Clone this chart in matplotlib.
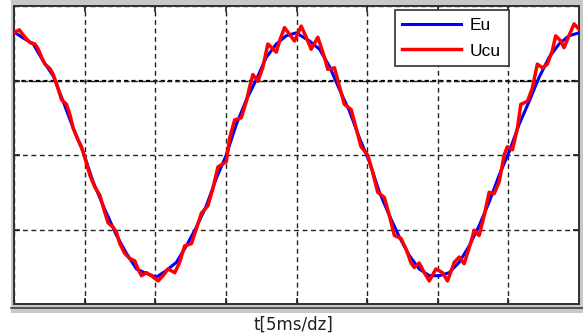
import matplotlib
matplotlib.use("Agg")
import matplotlib.pyplot as plt
from matplotlib.patches import Rectangle
from matplotlib.lines import Line2D

# time in ms (5 ms per division), voltage in divisions
eu_t = [0, 0.66, 1.36, 2.07, 2.78, 3.48, 4.19, 4.90, 5.60, 6.31, 7.26, 7.96, 8.67, 9.38,
        10.08, 10.79, 11.50, 12.20, 12.91, 13.62, 14.33, 15.03, 15.74, 16.45, 17.15, 17.86,
        18.57, 19.27, 19.98, 20.92, 21.63, 22.33, 23.04, 23.75, 24.45, 25.16, 25.87, 26.57,
        27.28, 27.99, 28.69, 29.40, 30.11, 30.81, 31.52, 32.23, 32.93, 33.64, 34.35, 35.05,
        35.76, 36.47, 37.17, 37.88, 38.59, 39.29, 40.0]
eu_v = [1.65, 1.57, 1.49, 1.26, 1.06, 0.72, 0.36, 0.04, -0.36, -0.68, -1.08, -1.32, -1.53, -1.59,
        -1.64, -1.55, -1.44, -1.22, -0.97, -0.68, -0.31, 0.00, 0.41, 0.74, 1.01, 1.31,
        1.49, 1.60, 1.64, 1.53, 1.42, 1.19, 0.88, 0.59, 0.23, -0.09, -0.50, -0.81,
        -1.10, -1.35, -1.53, -1.62, -1.62, -1.58, -1.44, -1.22, -0.95, -0.63, -0.27, 0.04,
        0.41, 0.72, 1.04, 1.31, 1.49, 1.60, 1.64]

ucu_t = [0, 0.37, 0.78, 1.13, 1.48, 1.72, 1.96, 2.19, 2.54, 2.78, 3.02, 3.37, 3.72, 3.96,
         4.19, 4.54, 4.78, 5.02, 5.37, 5.72, 6.08, 6.43, 6.66, 7.02, 7.26, 7.49, 7.84, 8.20,
         8.55, 8.78, 9.02, 9.38, 9.73, 10.20, 10.55, 10.90, 11.38, 11.73, 12.08, 12.56, 12.91,
         13.27, 13.73, 14.08, 14.44, 15.03, 15.27, 15.62, 16.09, 16.45, 16.68, 16.91, 17.27,
         17.62, 17.97, 18.57, 18.80, 19.15, 19.51, 19.86, 20.33, 20.69, 21.04, 21.51, 21.98,
         22.21, 22.69, 23.04, 23.39, 23.87, 24.22, 24.57, 25.04, 25.39, 25.75, 26.22, 26.57,
         26.93, 27.40, 27.75, 28.11, 28.34, 28.69, 29.05, 29.40, 29.87, 30.34, 30.69, 31.17,
         31.52, 31.87, 32.35, 32.58, 32.93, 33.29, 33.64, 33.99, 34.35, 34.70, 34.93, 35.29,
         35.64, 35.88, 36.35, 36.70, 37.05, 37.41, 37.76, 38.11, 38.35, 38.71, 38.94, 39.29,
         39.65, 40.0]
ucu_v = [1.64, 1.68, 1.58, 1.51, 1.49, 1.42, 1.31, 1.22, 1.16, 1.08, 0.95, 0.74, 0.68, 0.54,
         0.36, 0.20, 0.11, -0.04, -0.27, -0.43, -0.54, -0.77, -0.91, -0.97, -1.04, -1.19, -1.32, -1.39,
         -1.42, -1.53, -1.62, -1.58, -1.62, -1.69, -1.62, -1.53, -1.58, -1.44, -1.22, -1.19, -0.99,
         -0.78, -0.68, -0.45, -0.16, -0.09, 0.23, 0.47, 0.50, 0.72, 0.91, 1.08, 0.99,
         1.18, 1.49, 1.38, 1.53, 1.71, 1.62, 1.53, 1.73, 1.58, 1.42, 1.58, 1.31,
         1.15, 1.17, 0.92, 0.68, 0.61, 0.36, 0.11, 0.00, -0.23, -0.50, -0.57, -0.81,
         -1.08, -1.12, -1.26, -1.45, -1.51, -1.45, -1.58, -1.69, -1.53, -1.58, -1.69, -1.44,
         -1.37, -1.46, -1.17, -1.01, -1.08, -0.81, -0.50, -0.52, -0.36, 0.00, 0.11, 0.07,
         0.36, 0.68, 0.72, 0.90, 1.22, 1.17, 1.22, 1.40, 1.60, 1.53, 1.44, 1.60,
         1.76, 1.69]

x_ticks = [0, 5, 10, 15, 20, 25, 30, 35, 40]
y_ticks = [-2, -1, 0, 1, 2]

W, H = 583, 335
fig = plt.figure(figsize=(W / 100, H / 100), dpi=100)

# gray window frame behind the axes
fig.patches.append(Rectangle((11 / W, 1 - 313 / H), 572 / W, 313 / H,
                             transform=fig.transFigure, facecolor="#c8c8c8",
                             edgecolor="none", zorder=-5))
fig.lines.append(Line2D([11 / W, 1], [1 - 308 / H, 1 - 308 / H],
                        transform=fig.transFigure, color="#404040", lw=1.2, zorder=-4))

ax = fig.add_axes([14 / W, 1 - 304 / H, 565 / W, 298 / H])
ax.set_zorder(2)
ax.set_facecolor("white")

ax.plot(eu_t, eu_v, color="#0000ff", lw=2.2, label="Eu", zorder=3)
ax.plot(ucu_t, ucu_v, color="#ff0000", lw=2.5, label="Ucu", zorder=4)

ax.set_xlim(0, 40)
ax.set_ylim(-2, 2)
ax.set_xticks(x_ticks)
ax.set_yticks(y_ticks)
ax.tick_params(direction="in", length=4, width=1.2, labelleft=False, labelbottom=False,
               top=True, right=True, color="#202020")
ax.grid(True, color="#222222", linestyle=(0, (3.5, 2.6)), lw=1.0)
ax.axhline(1, color="black", linestyle=(0, (1.9, 1.4)), lw=1.6, zorder=1)
for s in ax.spines.values():
    s.set_color("#303030")
    s.set_linewidth(1.4)

leg = ax.legend(loc="upper right", bbox_to_anchor=(509 / W, 1 - 10 / H),
                bbox_transform=fig.transFigure, prop={"family": "Liberation Sans", "size": 12.5},
                fancybox=False, framealpha=1, edgecolor="#303030", borderpad=0.45,
                handlelength=3.4, handletextpad=0.5, labelspacing=0.6,
                borderaxespad=0)
leg.get_frame().set_linewidth(1.2)

fig.text(293 / W, 1 - 325 / H, "t[5ms/dz]", ha="center", va="center",
         fontsize=12, color="#202020")

fig.savefig("out.png", dpi=100)
